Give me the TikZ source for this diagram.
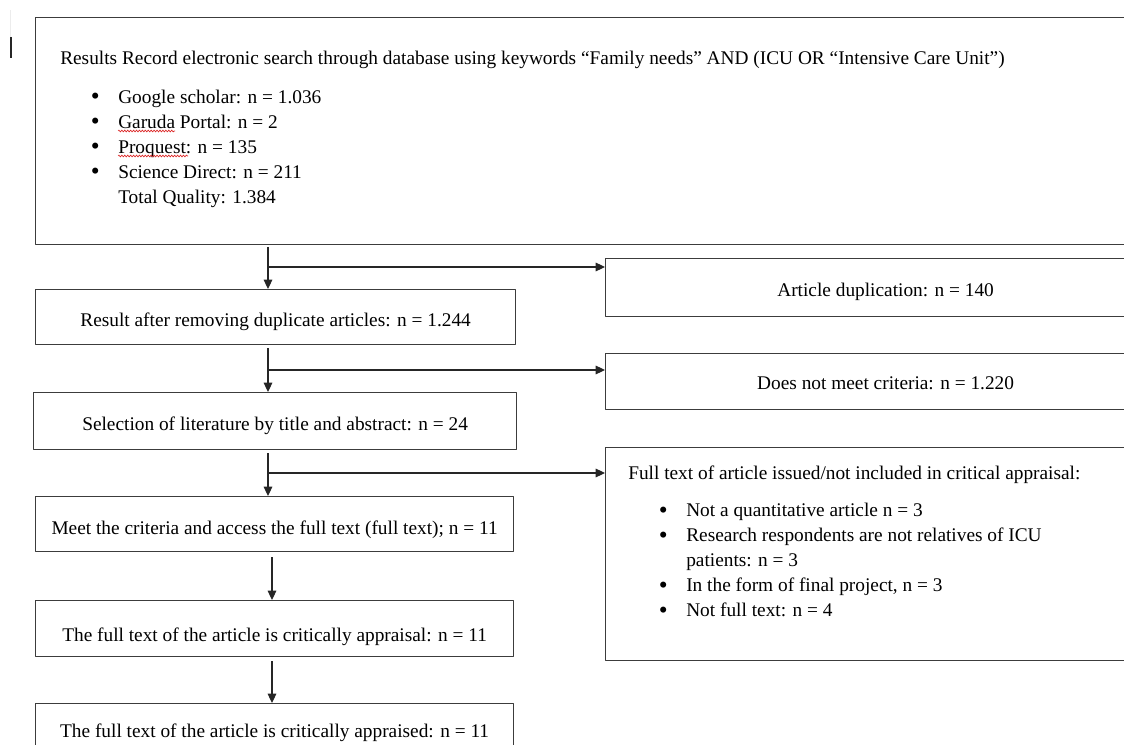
\documentclass[tikz,border=0pt]{standalone}
\usepackage{fontspec}
\setmainfont{Liberation Serif}
\usepackage{tikz}
\usetikzlibrary{arrows.meta,positioning,calc,decorations.pathmorphing}
\definecolor{boxgray}{RGB}{60,60,60}
\definecolor{spellred}{RGB}{220,40,40}
\newcommand\bitem[1]{\hspace*{23pt}\makebox[20.5pt][l]{\raisebox{-1.2pt}{\fontsize{19}{19}\selectfont\textbullet}}#1}

\begin{document}
\begin{tikzpicture}[x=0.75pt,y=-0.75pt,line join=round,
  font=\fontsize{14.5}{18.75}\selectfont,
  box/.style={draw=boxgray,line width=0.9pt,inner sep=0pt,anchor=north west,
    text height=17.25pt,text depth=3pt},
  flow/.style={draw=black!85,line width=0.8pt,-{Triangle[length=7pt,width=6.5pt]}},
  spell/.style={draw=spellred,line width=0.5pt,decorate,
    decoration={snake,segment length=2.2pt,amplitude=0.7pt}}]
  \path[use as bounding box,clip] (0,0) rectangle (1124,745);
  % stray text cursor at the top left
  \draw[gray!15,line width=1.2pt] (10.5,10) -- (10.5,37);
  \draw[black!85,line width=1.5pt] (10.5,37) -- (10.5,58);
  % --- search results (box runs off the right edge) ---
  \node[box,minimum width=832.5pt,minimum height=170.25pt] (search) at (35,17) {};
  \node[anchor=north west,align=left,inner sep=0pt] (searchtxt) at ([shift={(25,34)}]search.north west)
    {Results Record electronic search through database using keywords “Family needs” AND (ICU OR “Intensive Care Unit”)\\[10pt]
     \bitem{Google scholar: n = 1.036}\\
     \bitem{Garuda Portal: n = 2}\\
     \bitem{Proquest: n = 135}\\
     \bitem{Science Direct: n = 211}\\
     \hspace*{43.5pt}Total Quality: 1.384};
  % spell-check marks
  \draw[spell] (118,131) -- (175,131);
  \draw[spell] (118,156) -- (188,156);
  % --- main column ---
  \node[box,minimum width=360pt,minimum height=41.25pt] (removed) at (35,289)
    {Result after removing duplicate articles: n = 1.244};
  \node[box,minimum width=362.25pt,minimum height=42.75pt] (selected) at (33,392)
    {Selection of literature by title and abstract: n = 24};
  \node[box,minimum width=358.5pt,minimum height=41.25pt,text height=18.75pt] (fulltext) at (35,496)
    {Meet the criteria and access the full text (full text); n = 11};
  \node[box,minimum width=358.5pt,minimum height=42pt,text height=21.75pt] (appraisal) at (35,600)
    {The full text of the article is critically appraisal: n = 11};
  \node[box,minimum width=358.5pt,minimum height=40.5pt,text height=12.75pt] (appraised) at (35,703)
    {The full text of the article is critically appraised: n = 11};
  % --- side column (boxes run off the right edge) ---
  \node[box,minimum width=420pt,minimum height=43.5pt,text height=15.75pt] (dupl) at (605,258)
    {Article duplication: n = 140};
  \node[box,minimum width=420pt,minimum height=42pt,text height=14.25pt] (nocrit) at (605,353)
    {Does not meet criteria: n = 1.220};
  \node[box,minimum width=420pt,minimum height=159.75pt] (excluded) at (605,447) {};
  \node[anchor=north west,align=left,inner sep=0pt] (excltxt) at ([shift={(23,19)}]excluded.north west)
    {Full text of article issued/not included in critical appraisal:\\[9pt]
     \bitem{Not a quantitative article n = 3}\\
     \bitem{Research respondents are not relatives of ICU}\\
     \hspace*{43.5pt}patients: n = 3\\
     \bitem{In the form of final project, n = 3}\\
     \bitem{Not full text: n = 4}};
  % --- connectors ---
  \coordinate (v1) at (268,247); \coordinate (j1) at (268,267);
  \coordinate (v2) at (268,348); \coordinate (j2) at (268,370);
  \coordinate (v3) at (268,453); \coordinate (j3) at (268,473);
  \coordinate (v4) at (272,557);
  \coordinate (v5) at (272,661);
  \draw[flow] (v1) -- (removed.north -| v1);
  \draw[flow] (j1) -- (dupl.west |- j1);
  \draw[flow] (v2) -- (selected.north -| v2);
  \draw[flow] (j2) -- (nocrit.west |- j2);
  \draw[flow] (v3) -- (fulltext.north -| v3);
  \draw[flow] (j3) -- (excluded.west |- j3);
  \draw[flow] (v4) -- (appraisal.north -| v4);
  \draw[flow] (v5) -- (appraised.north -| v5);
\end{tikzpicture}
\end{document}
